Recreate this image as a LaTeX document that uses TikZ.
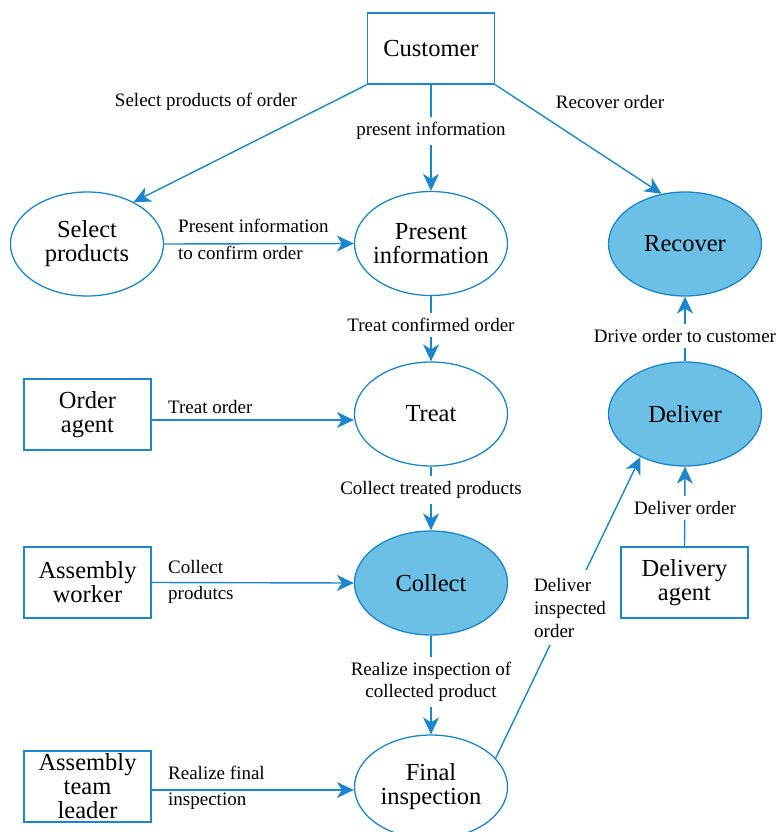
\documentclass[tikz,border=0pt]{standalone}
\usepackage{fontspec}
\setmainfont{Liberation Serif}
\usetikzlibrary{shapes.geometric,arrows.meta}
\definecolor{flowblue}{RGB}{27,134,204}
\definecolor{taskfill}{RGB}{108,192,230}
\begin{document}
\begin{tikzpicture}[x=1pt,y=-1pt,
  actor/.style={draw=flowblue, line width=1.3pt, rectangle, minimum width=127pt,
    minimum height=71pt, inner sep=0pt, align=center, font=\fontsize{24.5}{24}\selectfont},
  task/.style={draw=flowblue, line width=1.3pt, ellipse, minimum width=153pt,
    minimum height=104pt, inner xsep=-5pt, inner ysep=0pt, align=center,
    font=\fontsize{24.5}{24}\selectfont},
  keytask/.style={task, fill=taskfill},
  flow/.style={draw=flowblue, line width=1.4pt, -{Stealth[length=17pt,width=16pt,inset=5pt]}},
  lab/.style={font=\fontsize{19}{23}\selectfont, inner sep=0pt},
  cutlab/.style={lab, fill=white, inner xsep=3pt, inner ysep=5pt},
]
\useasboundingbox (0,0) rectangle (777,832);

% actors and tasks
\node[actor] (cust) at (431,48.5) {Customer};
\node[task] (sel) at (87,244) {Select\\products};
\node[task] (pres) at (431,243.5) {Present\\information};
\node[keytask] (rec) at (685,244) {Recover};
\node[actor] (oa) at (87.5,414.5) {Order\\agent};
\node[task] (tr) at (431,414) {Treat};
\node[keytask] (del) at (685,414) {Deliver};
\node[actor] (aw) at (87.5,582.5) {Assembly\\worker};
\node[keytask] (col) at (431,583) {Collect};
\node[actor] (da) at (684.5,582.5) {Delivery\\agent};
\node[actor] (atl) at (87.5,786.5) {Assembly\\team\\leader};
\node[task] (fin) at (431,787) {Final\\inspection};

% flows
\draw[flow] (cust.south west) -- (sel.42);
\draw[flow] (cust.south) -- (pres.north);
\draw[flow] (cust.south east) -- (rec.115);
\draw[flow] (sel.east) -- (pres.west);
\draw[flow] (pres.south) -- (tr.north);
\draw[flow] ([yshift=-5.5pt]oa.east) -- ([yshift=-5.5pt]oa.east -| tr.west);
\draw[flow] (tr.south) -- (col.north);
\draw[flow] (aw.east) -- (col.west);
\draw[flow] (col.south) -- (fin.north);
\draw[flow] ([yshift=-3.5pt]atl.east) -- ([yshift=-3.5pt]atl.east -| fin.west);
\draw[flow] (fin.24) -- (del.224);
\draw[flow] (da.north) -- (del.south);
\draw[flow] (del.north) -- (rec.south);

% flow labels
\node[lab] at (206,102) {Select products of order};
\node[lab] at (610,102) {Recover order};
\node[cutlab] at (431,131) {present information};
\node[lab, anchor=base west] at (178,232.3) {Present information};
\node[lab, anchor=base west] at (178,259.3) {to confirm order};
\node[cutlab] at (431,325) {Treat confirmed order};
\node[cutlab] at (685,336) {Drive order to customer};
\node[lab, anchor=base west] at (168,413.3) {Treat order};
\node[cutlab] at (431,490) {Collect treated products};
\node[cutlab] at (685,508) {Deliver order};
\node[lab, anchor=base west] at (168,573.3) {Collect};
\node[lab, anchor=base west] at (168,599.3) {produtcs};
\node[cutlab, align=center, font=\fontsize{19}{22}\selectfont] at (431,682)
  {Realize inspection of\\collected product};
\node[cutlab, align=left, anchor=west, inner ysep=8pt, font=\fontsize{19}{23}\selectfont]
  at (531,607.8) {Deliver\\inspected\\order};
\node[lab, anchor=base west] at (168,779.3) {Realize final};
\node[lab, anchor=base west] at (168,805.3) {inspection};
\end{tikzpicture}
\end{document}
